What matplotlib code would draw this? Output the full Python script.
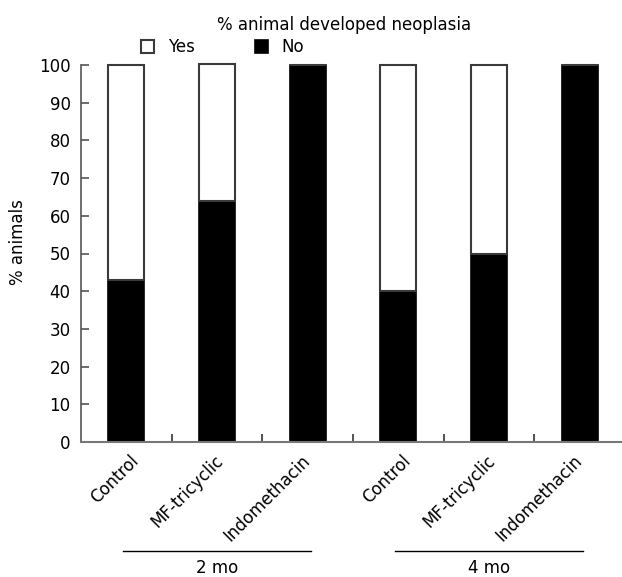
import matplotlib
matplotlib.use('Agg')
import matplotlib.pyplot as plt
import matplotlib.transforms as mtransforms

# Data
treatments = ['Control', 'MF-tricyclic', 'Indomethacin', 'Control', 'MF-tricyclic', 'Indomethacin']
no_pct = [43, 64, 100, 40, 50, 100]
yes_pct = [57, 36.3, 0, 60, 50, 0]
groups = ['2 mo', '4 mo']
group_members = [[0, 1, 2], [3, 4, 5]]

plt.rcParams['font.family'] = ['DejaVu Sans']
plt.rcParams['font.size'] = 12

W, H = 622, 577
fig = plt.figure(figsize=(W / 100, H / 100), dpi=100)
# axes box in pixels: left 81, right 625, bottom y 442, top y 65
ax = fig.add_axes([81 / W, 1 - 442 / H, (625 - 81) / W, (442 - 65) / H])

x = list(range(len(treatments)))
edge = '#3a3a3a'
bars_no = ax.bar(x, no_pct, width=0.4, color='black', edgecolor='black', linewidth=1.2,
                 label='No', clip_on=False)
bars_yes = ax.bar(x, yes_pct, width=0.4, bottom=no_pct, color='white', edgecolor=edge,
                  linewidth=1.5, label='Yes', clip_on=False)

ax.set_xlim(-0.5, 5.5)
ax.set_ylim(0, 100)
ax.set_yticks(range(0, 101, 10))
ax.set_ylabel('% animals')
ax.yaxis.set_label_coords(-0.1, 0.53)

for s in ['top', 'right']:
    ax.spines[s].set_visible(False)
ax.spines['left'].set_color('#555555')
ax.spines['bottom'].set_color('#777777')
ax.spines['left'].set_linewidth(1.2)
ax.spines['bottom'].set_linewidth(1.5)

ax.tick_params(axis='y', direction='in', length=6, width=1.2, color='#555555', pad=7.5)
# labels at bar centres, tick marks between categories
ax.set_xticks(x)
ax.set_xticklabels(treatments, rotation=45, ha='right', va='top')
ax.tick_params(axis='x', which='major', length=0, pad=7)
ax.set_xticks([i + 0.5 for i in x[:-1]], minor=True)
ax.tick_params(axis='x', which='minor', direction='in', length=6, width=1.2, color='#333333')
label_shift = [16, 10, 6, 16, 10, 6]
for lab, dx in zip(ax.get_xticklabels(), label_shift):
    offset = mtransforms.ScaledTranslation(dx / 100, 0, fig.dpi_scale_trans)
    lab.set_transform(lab.get_transform() + offset)

# group brackets under the labels
for name, idx in zip(groups, group_members):
    x0, x1 = idx[0] - 0.04, idx[-1] + 0.04
    ax.plot([x0, x1], [-0.289, -0.289], color='black', lw=1,
            transform=ax.get_xaxis_transform(), clip_on=False)
    ax.text((x0 + x1) / 2, -0.334, name, ha='center', va='center',
            transform=ax.get_xaxis_transform())

fig.text(344 / W, 1 - 25 / H, '% animal developed neoplasia', ha='center', va='center')
fig.legend([bars_yes, bars_no], ['Yes', 'No'], ncol=2, frameon=False,
           loc='center left', bbox_to_anchor=(141 / W, 1 - 47 / H),
           handlelength=0.8, handleheight=0.8, handletextpad=0.8, columnspacing=3.6,
           borderpad=0, borderaxespad=0)

fig.savefig('out.png', dpi=100)
